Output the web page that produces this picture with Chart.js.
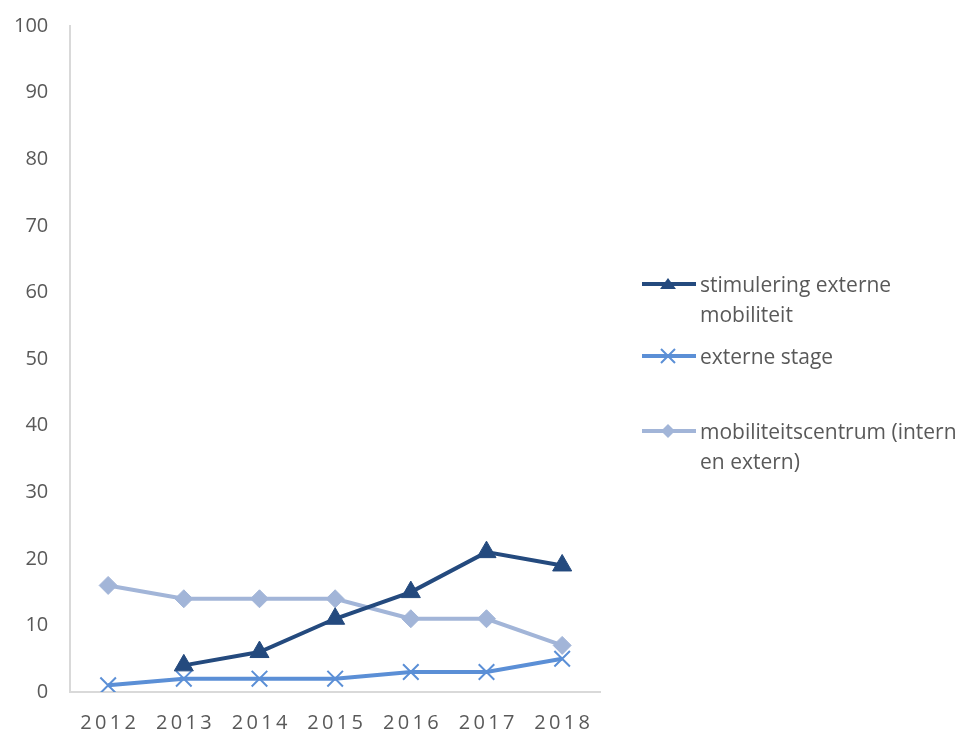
<!DOCTYPE html>
<html>
<head>
<meta charset="utf-8">
<script src="https://cdn.jsdelivr.net/npm/chart.js@4"></script>
<style>
  html, body { margin: 0; padding: 0; background: #fff; overflow: hidden; }
  #wrap { position: relative; width: 961px; height: 731px; overflow: hidden; }
  #c { position: absolute; left: 0; top: -8px; }
  #legend { position: absolute; left: 642px; top: 269px; font-family: "Open Sans", "Noto Sans", sans-serif; font-size: 21px; color: #595959; line-height: 30px; white-space: nowrap; }
  .item { position: relative; padding-left: 58px; }
  .item svg { position: absolute; left: 0; top: 5px; }
</style>
</head>
<body>
<div id="wrap">
  <canvas id="c" width="961" height="739"></canvas>
  <div id="legend"></div>
</div>
<script>
const years = ['2012', '2013', '2014', '2015', '2016', '2017', '2018'];
const stimulering = [null, 4, 6, 11, 15, 21, 19];
const externeStage = [1, 2, 2, 2, 3, 3, 5];
const mobiliteitscentrum = [16, 14, 14, 14, 11, 11, 7];
const yTicks = [0, 10, 20, 30, 40, 50, 60, 70, 80, 90, 100];

const series = [
  { label: 'stimulering externe mobiliteit', lines: ['stimulering externe', 'mobiliteit'], data: stimulering, color: '#244a7e', style: 'triangle', radius: 11, gap: 12 },
  { label: 'externe stage', lines: ['externe stage'], data: externeStage, color: '#5b8fd6', style: 'crossRot', radius: 11, gap: 45 },
  { label: 'mobiliteitscentrum (intern en extern)', lines: ['mobiliteitscentrum (intern', 'en extern)'], data: mobiliteitscentrum, color: '#a2b5d8', style: 'rectRot', radius: 9, gap: 0 }
];

// html legend with small line+marker swatches
const legend = document.getElementById('legend');
series.forEach(s => {
  const div = document.createElement('div');
  div.className = 'item';
  div.style.marginBottom = s.gap + 'px';
  let marker = '';
  if (s.style === 'triangle') marker = `<polygon points="26,4 34,15 18,15" fill="${s.color}"/>`;
  else if (s.style === 'crossRot') marker = `<path d="M19,3 L33,17 M33,3 L19,17" stroke="${s.color}" stroke-width="2"/>`;
  else marker = `<polygon points="26,3 33,10 26,17 19,10" fill="${s.color}"/>`;
  div.innerHTML = `<svg width="54" height="20"><line x1="0" y1="10" x2="54" y2="10" stroke="${s.color}" stroke-width="4"/>${marker}</svg>` + s.lines.join('<br>');
  legend.appendChild(div);
});

new Chart(document.getElementById('c'), {
  type: 'line',
  data: {
    labels: years,
    datasets: series.map(s => ({
      label: s.label,
      data: s.data,
      borderColor: s.color,
      backgroundColor: s.color,
      borderWidth: 4,
      pointStyle: s.style,
      pointRadius: s.radius,
      pointBorderWidth: s.style === 'crossRot' ? 2 : 1,
      pointBorderColor: s.color,
      spanGaps: false,
      tension: 0
    }))
  },
  options: {
    responsive: false,
    animation: false,
    layout: { padding: { top: 2, right: 361, left: -8, bottom: -23 } },
    plugins: { legend: { display: false }, tooltip: { enabled: false } },
    scales: {
      x: {
        offset: true,
        grid: { display: false, drawTicks: false },
        border: { color: '#d9d9d9', width: 2 },
        ticks: {
          color: '#595959',
          font: { family: '"Open Sans", "Noto Sans", sans-serif', size: 20 },
          padding: 19,
          maxRotation: 0,
          callback: function (v) { return years[v].split('').join('\u2009'); }
        }
      },
      y: {
        min: 0,
        max: 100,
        afterBuildTicks: axis => { axis.ticks = yTicks.map(v => ({ value: v })); },
        grid: { display: false, drawTicks: false },
        border: { color: '#d9d9d9', width: 2 },
        ticks: {
          color: '#595959',
          font: { family: '"Open Sans", "Noto Sans", sans-serif', size: 20 },
          padding: 22
        }
      }
    }
  }
});
</script>
</body>
</html>
